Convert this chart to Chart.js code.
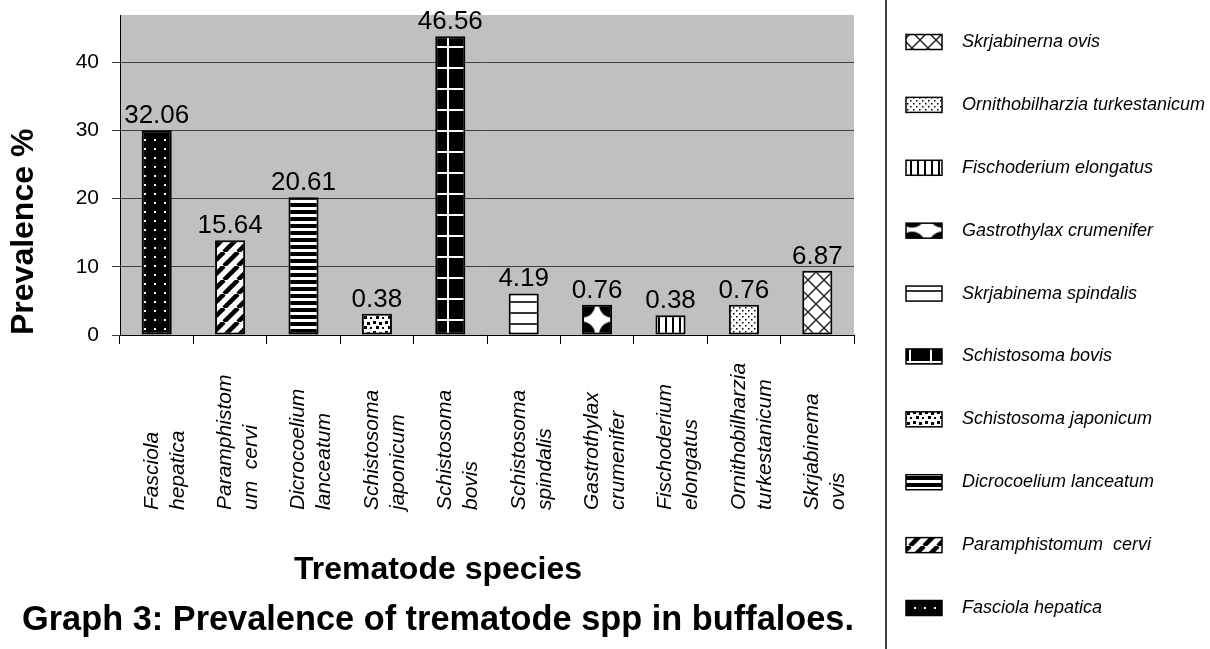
<!DOCTYPE html>
<html>
<head>
<meta charset="utf-8">
<script src="https://cdn.jsdelivr.net/npm/chart.js@4.4.1/dist/chart.umd.min.js"></script>
<style>
  html, body { margin: 0; padding: 0; background: #fff; }
</style>
</head>
<body>
<canvas id="barChart" width="1210" height="649"></canvas>
<script>
// species on the x axis (two lines each)
const species = [
  ['Fasciola', 'hepatica'],
  ['Paramphistom', 'um  cervi'],
  ['Dicrocoelium', 'lanceatum'],
  ['Schistosoma', 'japonicum'],
  ['Schistosoma', 'bovis'],
  ['Schistosoma', 'spindalis'],
  ['Gastrothylax', 'crumenifer'],
  ['Fischoderium', 'elongatus'],
  ['Ornithobilharzia', 'turkestanicum'],
  ['Skrjabinema', 'ovis']
];

// bar heights as drawn in the picture
const barHeights = [30, 13.9, 20.2, 3.1, 43.8, 6.1, 4.45, 2.9, 4.45, 9.4];

// numbers printed above the bars
const valueLabels = ['32.06', '15.64', '20.61', '0.38', '46.56', '4.19', '0.76', '0.38', '0.76', '6.87'];

// legend, top to bottom (reverse of the bars)
const legendNames = [
  'Skrjabinerna ovis',
  'Ornithobilharzia turkestanicum',
  'Fischoderium elongatus',
  'Gastrothylax crumenifer',
  'Skrjabinema spindalis',
  'Schistosoma bovis',
  'Schistosoma japonicum',
  'Dicrocoelium lanceatum',
  'Paramphistomum  cervi',
  'Fasciola hepatica'
];

const yTicks = [0, 10, 20, 30, 40];

const FONT = "Arial, 'Liberation Sans', sans-serif";
Chart.defaults.font.family = FONT;
Chart.defaults.color = '#000';

const canvas = document.getElementById('barChart');
const ctx = canvas.getContext('2d');

// small tiles for the hatch fills
function tile(w, h, paint) {
  const c = document.createElement('canvas');
  c.width = w;
  c.height = h;
  const g = c.getContext('2d');
  paint(g, w, h);
  return ctx.createPattern(c, 'repeat');
}
function bg(g, w, h, col) {
  g.fillStyle = col;
  g.fillRect(0, 0, w, h);
}

const patterns = [
  // Fasciola - black with white dots
  tile(10, 9, (g, w, h) => {
    bg(g, w, h, '#000');
    g.fillStyle = '#fff';
    g.fillRect(4, 4, 2, 2);
  }),
  // Paramphistomum - wide diagonal stripes
  tile(14, 14, (g, w, h) => {
    bg(g, w, h, '#fff');
    g.strokeStyle = '#000';
    g.lineWidth = 4.5;
    for (let k = -1; k <= 1; k++) {
      g.beginPath();
      g.moveTo(k * w, h);
      g.lineTo(k * w + w, 0);
      g.stroke();
    }
  }),
  // Dicrocoelium - horizontal bands
  tile(4, 7, (g, w, h) => {
    bg(g, w, h, '#fff');
    g.fillStyle = '#000';
    g.fillRect(0, 0, w, 4);
  }),
  // S. japonicum - scattered squares
  tile(12, 10, (g, w, h) => {
    bg(g, w, h, '#fff');
    g.fillStyle = '#000';
    g.fillRect(1, 1, 3, 3);
    g.fillRect(7, 2, 3, 3);
    g.fillRect(4, 6, 3, 3);
    g.fillRect(10, 7, 2, 2);
  }),
  // S. bovis - black with white cross lines
  tile(21, 21, (g, w, h) => {
    bg(g, w, h, '#000');
    g.fillStyle = '#fff';
    g.fillRect(6, 0, 2, h);
    g.fillRect(0, 4, w, 2);
  }),
  // S. spindalis - thin horizontal lines
  tile(4, 11, (g, w, h) => {
    bg(g, w, h, '#fff');
    g.fillStyle = '#333';
    g.fillRect(0, 4, w, 2);
  }),
  // Gastrothylax - black corners around a white star
  tile(30, 30, (g, w, h) => {
    bg(g, w, h, '#fff');
    g.fillStyle = '#000';
    [[0, 0], [w, 0], [0, h], [w, h]].forEach(([px, py]) => {
      g.beginPath();
      g.arc(px, py, 13, 0, Math.PI * 2);
      g.fill();
    });
  }),
  // Fischoderium - vertical lines
  tile(7, 4, (g, w, h) => {
    bg(g, w, h, '#fff');
    g.fillStyle = '#000';
    g.fillRect(0, 0, 2, h);
  }),
  // Ornithobilharzia - fine dots
  tile(6, 6, (g, w, h) => {
    bg(g, w, h, '#fff');
    g.fillStyle = '#000';
    g.fillRect(1, 1, 1.5, 1.5);
    g.fillRect(4, 4, 1.5, 1.5);
  }),
  // Skrjabinema - diagonal lattice
  tile(16, 16, (g, w, h) => {
    bg(g, w, h, '#fff');
    g.strokeStyle = '#222';
    g.lineWidth = 1.5;
    g.beginPath();
    g.moveTo(0, 0); g.lineTo(w, h);
    g.moveTo(w, 0); g.lineTo(0, h);
    g.stroke();
  })
];

// gray plot background
const plotBg = {
  id: 'plotBg',
  beforeDraw(chart) {
    const a = chart.chartArea;
    const c = chart.ctx;
    c.save();
    c.fillStyle = '#c0c0c0';
    c.fillRect(a.left, a.top, a.right - a.left, a.bottom - a.top);
    c.restore();
  }
};

// centre the Gastrothylax star on its bar
const alignStar = {
  id: 'alignStar',
  beforeDatasetsDraw(chart) {
    const bar = chart.getDatasetMeta(0).data[6];
    if (!bar) return;
    const mid = (bar.y + bar.base) / 2;
    patterns[6].setTransform(new DOMMatrix([1, 0, 0, 1, bar.x - 15, mid - 15]));
  }
};

// numbers above the bars
const barValues = {
  id: 'barValues',
  afterDatasetsDraw(chart) {
    const c = chart.ctx;
    const meta = chart.getDatasetMeta(0);
    c.save();
    c.font = '26px ' + FONT;
    c.fillStyle = '#000';
    c.textAlign = 'center';
    c.textBaseline = 'alphabetic';
    meta.data.forEach((bar, i) => {
      c.fillText(valueLabels[i], bar.x, bar.y - 7);
    });
    c.restore();
  }
};

// rotated category names, reading upward
const speciesLabels = {
  id: 'speciesLabels',
  afterDraw(chart) {
    const c = chart.ctx;
    const xs = chart.scales.x;
    c.save();
    c.font = 'italic 21px ' + FONT;
    c.fillStyle = '#000';
    c.textAlign = 'left';
    c.textBaseline = 'middle';
    species.forEach((lines, i) => {
      const x = xs.getPixelForValue(i);
      c.save();
      c.translate(x - 5, 510);
      c.rotate(-Math.PI / 2);
      lines.forEach((t, j) => c.fillText(t, 0, j * 26));
      c.restore();
    });
    c.restore();
  }
};

// legend box on the right
const sideLegend = {
  id: 'sideLegend',
  afterDraw(chart) {
    const c = chart.ctx;
    c.save();
    c.strokeStyle = '#000';
    c.lineWidth = 1.5;
    c.beginPath();
    c.moveTo(886, 0);
    c.lineTo(886, chart.height);
    c.stroke();
    const n = legendNames.length;
    const step = (608 - 42) / (n - 1);
    c.font = 'italic 18px ' + FONT;
    c.textBaseline = 'middle';
    c.textAlign = 'left';
    legendNames.forEach((name, k) => {
      const y = 42 + k * step;
      c.fillStyle = patterns[n - 1 - k];
      c.fillRect(906, y - 7.5, 36, 15);
      c.strokeRect(906, y - 7.5, 36, 15);
      c.fillStyle = '#000';
      c.fillText(name, 962, y);
    });
    c.restore();
  }
};

const data = {
  labels: species,
  datasets: [{
    data: barHeights,
    backgroundColor: patterns,
    borderColor: '#000',
    borderWidth: 2,
    borderSkipped: false,
    barPercentage: 0.41,
    categoryPercentage: 1.0
  }]
};

const config = {
  type: 'bar',
  data: data,
  options: {
    responsive: false,
    animation: false,
    events: [],
    layout: { padding: { left: 22, right: 356, top: 15, bottom: 4 } },
    plugins: {
      legend: { display: false },
      tooltip: { enabled: false },
      title: {
        display: true,
        position: 'bottom',
        text: 'Graph 3: Prevalence of trematode spp in buffaloes.',
        color: '#000',
        font: { size: 34.5, weight: 'bold' },
        padding: { top: 10, bottom: 4 }
      },
      subtitle: {
        display: true,
        position: 'bottom',
        text: 'Trematode species',
        color: '#000',
        font: { size: 32, weight: 'bold' },
        padding: { top: 0, bottom: 0 }
      }
    },
    scales: {
      x: {
        grid: { drawOnChartArea: false, color: '#000', tickLength: 9, offset: true },
        border: { color: '#000', width: 1 },
        ticks: { display: false },
        afterFit: (s) => { s.height = 216.2; }
      },
      y: {
        min: 0,
        max: 46.9,
        afterBuildTicks: (s) => { s.ticks = yTicks.map(v => ({ value: v })); },
        grid: { color: '#404040', tickLength: 8 },
        border: { color: '#000' },
        ticks: { color: '#000', font: { size: 21 }, padding: 13 },
        title: {
          display: true,
          text: 'Prevalence %',
          color: '#000',
          align: 'start',
          font: { size: 32, weight: 'bold' },
          padding: { top: -17, bottom: 0 }
        },
        afterFit: (s) => {
          s.width = 98;
          s.paddingTop = 0;
          s.paddingBottom = 0;
        }
      }
    }
  },
  plugins: [plotBg, alignStar, barValues, speciesLabels, sideLegend]
};

const myChart = new Chart(ctx, config);
</script>
</body>
</html>
